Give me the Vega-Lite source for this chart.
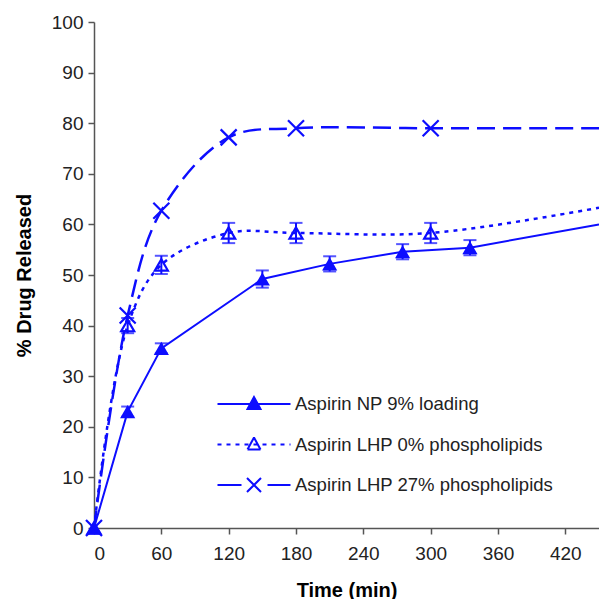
{
  "$schema": "https://vega.github.io/schema/vega-lite/v6.json",
  "width": 505,
  "height": 506,
  "autosize": {"type": "none"},
  "padding": {"left": 94, "top": 22, "right": 0, "bottom": 71},
  "background": "white",
  "config": {"view": {"stroke": null}, "font": "Liberation Sans"},
  "data": {
    "values": [
      {"series": "Aspirin NP 9% loading", "t": 0, "y": 0, "err": null, "marker": true},
      {"series": "Aspirin NP 9% loading", "t": 30, "y": 23, "err": 1.0, "marker": true},
      {"series": "Aspirin NP 9% loading", "t": 60, "y": 35.5, "err": 1.0, "marker": true},
      {"series": "Aspirin NP 9% loading", "t": 150, "y": 49.2, "err": 1.7, "marker": true},
      {"series": "Aspirin NP 9% loading", "t": 210, "y": 52.2, "err": 1.5, "marker": true},
      {"series": "Aspirin NP 9% loading", "t": 275, "y": 54.6, "err": 1.5, "marker": true},
      {"series": "Aspirin NP 9% loading", "t": 335, "y": 55.4, "err": 1.5, "marker": true},
      {"series": "Aspirin NP 9% loading", "t": 450, "y": 60, "err": null, "marker": false},
      {"series": "Aspirin LHP 0% phospholipids", "t": 0, "y": 0, "err": null, "marker": true},
      {"series": "Aspirin LHP 0% phospholipids", "t": 30, "y": 40, "err": 1.5, "marker": true},
      {"series": "Aspirin LHP 0% phospholipids", "t": 60, "y": 52, "err": 1.8, "marker": true},
      {"series": "Aspirin LHP 0% phospholipids", "t": 120, "y": 58.3, "err": 2.0, "marker": true},
      {"series": "Aspirin LHP 0% phospholipids", "t": 180, "y": 58.3, "err": 2.0, "marker": true},
      {"series": "Aspirin LHP 0% phospholipids", "t": 300, "y": 58.3, "err": 2.0, "marker": true},
      {"series": "Aspirin LHP 0% phospholipids", "t": 450, "y": 63.3, "err": null, "marker": false},
      {"series": "Aspirin LHP 27% phospholipids", "t": 0, "y": 0, "err": null, "marker": true},
      {"series": "Aspirin LHP 27% phospholipids", "t": 30, "y": 42, "err": null, "marker": true},
      {"series": "Aspirin LHP 27% phospholipids", "t": 60, "y": 62.7, "err": null, "marker": true},
      {"series": "Aspirin LHP 27% phospholipids", "t": 120, "y": 77.2, "err": null, "marker": true},
      {"series": "Aspirin LHP 27% phospholipids", "t": 180, "y": 79, "err": null, "marker": true},
      {"series": "Aspirin LHP 27% phospholipids", "t": 300, "y": 79, "err": null, "marker": true},
      {"series": "Aspirin LHP 27% phospholipids", "t": 450, "y": 79, "err": null, "marker": false}
    ]
  },
  "encoding": {
    "x": {
      "field": "t", "type": "quantitative",
      "scale": {"domain": [0, 450], "nice": false, "zero": false},
      "axis": {
        "values": [0, 60, 120, 180, 240, 300, 360, 420],
        "grid": false, "title": "Time (min)",
        "labelFont": "Liberation Sans", "labelFontSize": 19, "labelColor": "#222222",
        "labelPadding": 10, "tickSize": 6, "tickColor": "#555555", "tickWidth": 1.5,
        "domainColor": "#555555", "domainWidth": 1.5,
        "titleFont": "Liberation Sans", "titleFontSize": 20, "titleFontWeight": "bold",
        "titleColor": "#000000", "titlePadding": 17
      }
    },
    "y": {
      "field": "y", "type": "quantitative",
      "scale": {"domain": [0, 100], "nice": false},
      "axis": {
        "values": [0, 10, 20, 30, 40, 50, 60, 70, 80, 90, 100],
        "grid": false, "title": "% Drug Released",
        "labelFont": "Liberation Sans", "labelFontSize": 19, "labelColor": "#222222",
        "labelPadding": 5, "tickSize": 6, "tickColor": "#555555", "tickWidth": 1.5,
        "domainColor": "#555555", "domainWidth": 1.5,
        "titleFont": "Liberation Sans", "titleFontSize": 20, "titleFontWeight": "bold",
        "titleColor": "#000000", "titlePadding": 17
      }
    }
  },
  "layer": [
    {
      "transform": [{"filter": "datum.series == 'Aspirin NP 9% loading'"}],
      "mark": {"type": "line", "interpolate": "linear", "color": "#0d0dff", "strokeWidth": 2, "clip": true}
    },
    {
      "transform": [{"filter": "datum.series == 'Aspirin LHP 0% phospholipids'"}],
      "mark": {"type": "line", "interpolate": "catmull-rom", "color": "#0d0dff", "strokeWidth": 2.5, "strokeDash": [4, 5], "clip": true}
    },
    {
      "transform": [{"filter": "datum.series == 'Aspirin LHP 27% phospholipids'"}],
      "mark": {"type": "line", "interpolate": "catmull-rom", "color": "#0d0dff", "strokeWidth": 2.5, "strokeDash": [18, 8], "clip": true}
    },
    {
      "transform": [{"filter": "datum.err != null"}, {"calculate": "datum.y - datum.err", "as": "lo"}, {"calculate": "datum.y + datum.err", "as": "hi"}],
      "mark": {"type": "rule", "color": "#0d0dff", "strokeWidth": 2},
      "encoding": {"y": {"field": "lo", "type": "quantitative"}, "y2": {"field": "hi"}}
    },
    {
      "transform": [{"filter": "datum.err != null"}, {"calculate": "datum.y + datum.err", "as": "hi"}],
      "mark": {"type": "tick", "orient": "horizontal", "color": "#0d0dff", "size": 13, "thickness": 2},
      "encoding": {"y": {"field": "hi", "type": "quantitative"}}
    },
    {
      "transform": [{"filter": "datum.err != null"}, {"calculate": "datum.y - datum.err", "as": "lo"}],
      "mark": {"type": "tick", "orient": "horizontal", "color": "#0d0dff", "size": 13, "thickness": 2},
      "encoding": {"y": {"field": "lo", "type": "quantitative"}}
    },
    {
      "transform": [{"filter": "datum.marker && datum.series == 'Aspirin NP 9% loading'"}],
      "mark": {"type": "point", "shape": "triangle-up", "filled": true, "color": "#0d0dff", "size": 230, "opacity": 1}
    },
    {
      "transform": [{"filter": "datum.marker && datum.series == 'Aspirin LHP 0% phospholipids'"}],
      "mark": {"type": "point", "shape": "triangle-up", "filled": false, "color": "#0d0dff", "strokeWidth": 2.2, "size": 170, "opacity": 1}
    },
    {
      "transform": [{"filter": "datum.marker && datum.series == 'Aspirin LHP 27% phospholipids'"}],
      "mark": {"type": "point", "shape": "M-1,-1L1,1M-1,1L1,-1", "filled": false, "color": "#0d0dff", "strokeWidth": 2.2, "size": 256, "opacity": 1}
    },
    {
      "data": {"values": [{}]},
      "mark": {"type": "text", "text": "120 +/- 40 nm NP", "font": "Liberation Sans", "fontSize": 18, "fontWeight": "bold", "color": "#000000"},
      "encoding": {"x": {"datum": 263}, "y": {"datum": 36.6}}
    },
    {
      "transform": [{"filter": "datum.t < 0"}],
      "mark": {"type": "point", "stroke": "#0d0dff", "strokeWidth": 2, "opacity": 1},
      "encoding": {
        "shape": {
          "field": "series", "type": "nominal",
          "scale": {
            "domain": ["Aspirin NP 9% loading", "Aspirin LHP 0% phospholipids", "Aspirin LHP 27% phospholipids"],
            "range": [
              "M-1.825,0L1.825,0M0,-0.35L0.325,0.25L-0.325,0.25Z",
              "M-1.825,0L1.825,0M0,-0.35L0.081,-0.2M0.081,-0.2L0.1625,-0.05M0.1625,-0.05L0.244,0.1M0.244,0.1L0.325,0.25M0.325,0.25L0.1625,0.25M0.1625,0.25L0,0.25M0,0.25L-0.1625,0.25M-0.1625,0.25L-0.325,0.25M-0.325,0.25L-0.244,0.1M-0.244,0.1L-0.1625,-0.05M-0.1625,-0.05L-0.081,-0.2M-0.081,-0.2L0,-0.35",
              "M-1.825,0L1.825,0M-0.35,-0.35L0.35,0.35M-0.35,0.35L0.35,-0.35"
            ]
          },
          "legend": {
            "title": null, "orient": "none", "legendX": 139, "legendY": 361,
            "padding": 0, "symbolSize": 1600, "symbolStrokeWidth": 2,
            "labelFont": "Liberation Sans", "labelFontSize": 18.5, "labelColor": "#222222",
            "labelOffset": 20, "rowPadding": 9.5, "labelLimit": 400
          }
        },
        "strokeDash": {
          "field": "series", "type": "nominal",
          "scale": {
            "domain": ["Aspirin NP 9% loading", "Aspirin LHP 0% phospholipids", "Aspirin LHP 27% phospholipids"],
            "range": [[1, 0], [4, 5], [24, 26]]
          }
        },
        "fill": {
          "field": "series", "type": "nominal",
          "scale": {
            "domain": ["Aspirin NP 9% loading", "Aspirin LHP 0% phospholipids", "Aspirin LHP 27% phospholipids"],
            "range": ["#0d0dff", "transparent", "transparent"]
          }
        }
      }
    }
  ]
}
